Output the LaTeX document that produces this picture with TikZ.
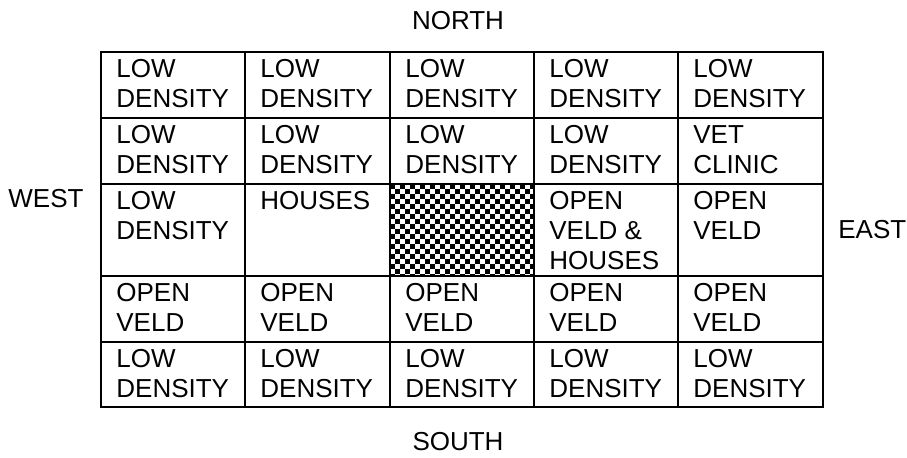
\documentclass[tikz,border=0pt]{standalone}
\usepackage{fontspec}
\setmainfont{Liberation Sans}
\usetikzlibrary{positioning}

\begin{document}
\begin{tikzpicture}[
  x=0.5pt, y=-0.5pt,
  font=\fontsize{13}{15}\selectfont,
  grid/.style={line width=0.75pt},
  cell/.style={anchor=north west, align=left, inner xsep=7.5pt, inner ysep=3.5pt},
  side/.style={inner sep=0pt}
]
\useasboundingbox (0,0) rectangle (907,457);

% checkered cell in the centre
\begin{scope}
  \clip (390,184) rectangle (534,276);
  \foreach \i in {0,...,28} {
    \foreach \j in {0,...,18} {
      \pgfmathtruncatemacro\chk{mod(\i+\j,2)}
      \ifnum\chk=0 \fill (390+5*\i,184+5*\j) rectangle ++(5,5); \fi
    }
  }
\end{scope}

% grid
\draw[grid] (101,52) rectangle (823,407);
\foreach \cx in {245,390,534,678} \draw[grid] (\cx,52) -- (\cx,407);
\foreach \ry in {118,184,276,342} \draw[grid] (101,\ry) -- (823,\ry);

% compass points
\node[side, anchor=base] (north) at (458,29) {NORTH};
\node[side, anchor=base] (south) at (458,450) {SOUTH};
\node[side, anchor=base west] (west) at (8,207) {WEST};
\node[side, anchor=base west] (east) at (838,238) {EAST};

% row 1
\node[cell] (a1) at (101,52) {LOW\\DENSITY};
\node[cell] (a2) at (245,52) {LOW\\DENSITY};
\node[cell] (a3) at (390,52) {LOW\\DENSITY};
\node[cell] (a4) at (534,52) {LOW\\DENSITY};
\node[cell] (a5) at (678,52) {LOW\\DENSITY};
% row 2
\node[cell] (b1) at (101,118) {LOW\\DENSITY};
\node[cell] (b2) at (245,118) {LOW\\DENSITY};
\node[cell] (b3) at (390,118) {LOW\\DENSITY};
\node[cell] (b4) at (534,118) {LOW\\DENSITY};
\node[cell] (b5) at (678,118) {VET\\CLINIC};
% row 3
\node[cell] (c1) at (101,184) {LOW\\DENSITY};
\node[cell] (c2) at (245,184) {HOUSES};
\node[cell] (c4) at (534,184) {OPEN\\VELD \&\\HOUSES};
\node[cell] (c5) at (678,184) {OPEN\\VELD};
% row 4
\node[cell] (d1) at (101,276) {OPEN\\VELD};
\node[cell] (d2) at (245,276) {OPEN\\VELD};
\node[cell] (d3) at (390,276) {OPEN\\VELD};
\node[cell] (d4) at (534,276) {OPEN\\VELD};
\node[cell] (d5) at (678,276) {OPEN\\VELD};
% row 5
\node[cell] (e1) at (101,342) {LOW\\DENSITY};
\node[cell] (e2) at (245,342) {LOW\\DENSITY};
\node[cell] (e3) at (390,342) {LOW\\DENSITY};
\node[cell] (e4) at (534,342) {LOW\\DENSITY};
\node[cell] (e5) at (678,342) {LOW\\DENSITY};
\end{tikzpicture}
\end{document}
